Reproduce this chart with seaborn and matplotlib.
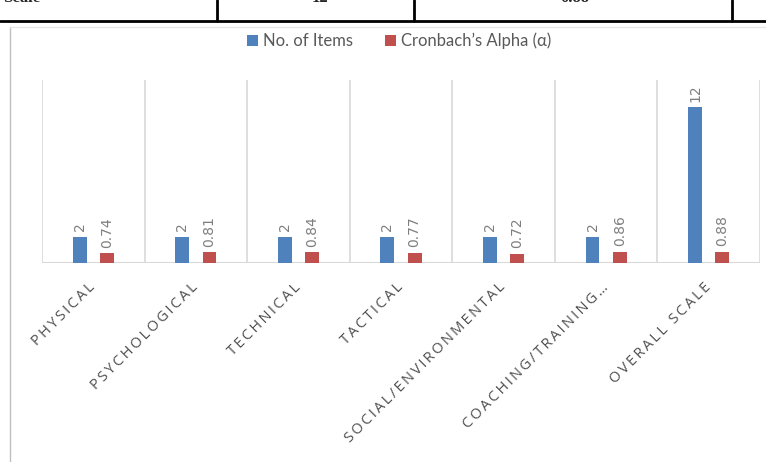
import matplotlib
matplotlib.use("Agg")
import matplotlib.pyplot as plt
import seaborn as sns
import pandas as pd
from matplotlib.lines import Line2D
from matplotlib.patches import Patch

# data
categories = ["PHYSICAL", "PSYCHOLOGICAL", "TECHNICAL", "TACTICAL",
              "SOCIAL/ENVIRONMENTAL", "COACHING/TRAINING…", "OVERALL SCALE"]
n_items = [2, 2, 2, 2, 2, 2, 12]
alpha_vals = [0.74, 0.81, 0.84, 0.77, 0.72, 0.86, 0.88]
series_names = ["No. of Items", "Cronbach’s Alpha (α)"]
colors = ["#4F81BD", "#C0504D"]

df = pd.DataFrame({
    "Dimension": categories * 2,
    "Value": n_items + alpha_vals,
    "Series": [series_names[0]] * len(categories) + [series_names[1]] * len(categories),
})

sns.set_style("white")
plt.rcParams["font.family"] = ["Lato", "DejaVu Sans"]

fig = plt.figure(figsize=(7.66, 4.62), dpi=100)
ax = fig.add_axes([42 / 766, 1 - 263 / 462, 718 / 766, 183 / 462])

sns.barplot(data=df, x="Dimension", y="Value", hue="Series", palette=colors,
            width=0.53, gap=0.49, ax=ax, legend=False, saturation=1,
            edgecolor="none")

ax.set_ylim(0, 14.1)
ax.set_xlim(-0.5, len(categories) - 0.5)
ax.set_yticks([])
ax.set_xlabel("")
ax.set_ylabel("")
for s in ax.spines.values():
    s.set_visible(False)

# category separators + baseline
for b in range(len(categories) + 1):
    ax.axvline(b - 0.5, color="#D9D9D9", lw=1.2, zorder=0)
ax.axhline(0, color="#D9D9D9", lw=1.5, zorder=0)

# data labels
ax.bar_label(ax.containers[0], fmt="%g", rotation=90, padding=4,
             color="#7F7F7F", fontsize=10, family="DejaVu Sans")
ax.bar_label(ax.containers[1], fmt="%.2f", rotation=90, padding=4,
             color="#7F7F7F", fontsize=10, family="DejaVu Sans")


def spaced(s):
    # Excel-style letter spacing on the category labels
    return "\u2009".join(s)


ax.tick_params(axis="x", length=0, pad=16)
ax.set_xticks(range(len(categories)))
ax.set_xticklabels([spaced(c) for c in categories], rotation=45, ha="right",
                   va="center", rotation_mode="anchor", color="#505050",
                   fontsize=10.5, family=["Open Sans", "DejaVu Sans"])

handles = [Patch(facecolor=c, edgecolor="none") for c in colors]
fig.legend(handles, series_names, loc="center", bbox_to_anchor=(0.521, 1 - 41 / 462),
           ncol=2, frameon=False, fontsize=12, handlelength=0.65, handleheight=0.65,
           handletextpad=0.3, columnspacing=1.9, labelcolor="#595959")

# table row fragment above the chart
W, H = 766, 462
fig.add_artist(Line2D([0, 1], [1 - 21 / H, 1 - 21 / H], color="black", lw=2,
                      transform=fig.transFigure))
for xv in [217, 414, 732]:
    fig.add_artist(Line2D([xv / W, xv / W], [1 - 21 / H, 1], color="black", lw=2,
                          transform=fig.transFigure))
for xv, txt in [(22, "Scale"), (320, "12"), (575, "0.88")]:
    fig.text(xv / W, 1 + 2 / H, txt, ha="center", va="center", fontsize=12,
             fontweight="bold", family="Liberation Serif")

# chart frame (left edge and top)
fig.add_artist(Line2D([10 / W, 10 / W], [0, 1 - 27 / H], color="#BFBFBF", lw=1,
                      transform=fig.transFigure))
fig.add_artist(Line2D([10 / W, 1], [1 - 27 / H, 1 - 27 / H], color="#E6E6E6", lw=1,
                      transform=fig.transFigure))

fig.savefig("out.png", dpi=100)
